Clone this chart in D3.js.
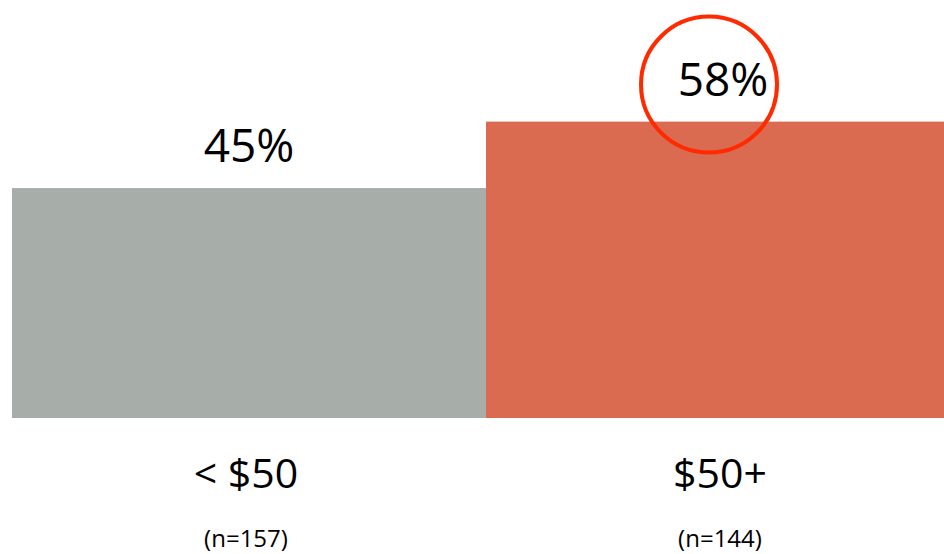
<!DOCTYPE html>
<html>
<head>
<meta charset="utf-8">
<script src="https://cdn.jsdelivr.net/npm/d3@7"></script>
<style>
  html, body { margin: 0; padding: 0; background: #fff; overflow: hidden; }
  svg { display: block; font-family: 'Open Sans', sans-serif; }
</style>
</head>
<body>
<div class="chart"></div>
<script>
const categories = ['< $50', '$50+']
const sampleSizes = ['(n=157)', '(n=144)']
const values = [45, 58]
const highlighted = [false, true]

const GRAY = '#a7aea9'
const ORANGE = '#da6a50'
const RING = '#ff2a00'

const width = 944
const height = 554
const baseline = 418

const svg = d3.select('.chart').append('svg')
  .attr('width', width)
  .attr('height', height)

const x = d3.scaleBand()
  .domain(categories)
  .range([12, 960])
  .padding(0)

// 100% would reach well above the top of the canvas
const y = d3.scaleLinear()
  .domain([0, 100])
  .range([baseline, baseline - 511])

const data = categories.map((c, i) => ({
  cat: c, n: sampleSizes[i], value: values[i], hi: highlighted[i]
}))

svg.selectAll('rect.bar')
  .data(data)
  .join('rect')
  .attr('class', 'bar')
  .attr('x', d => x(d.cat))
  .attr('y', d => y(d.value))
  .attr('width', x.bandwidth())
  .attr('height', d => baseline - y(d.value))
  .attr('fill', (d, i) => i === 0 ? GRAY : ORANGE)

svg.selectAll('text.value')
  .data(data)
  .join('text')
  .attr('class', 'value')
  .attr('x', d => x(d.cat) + x.bandwidth() / 2)
  .attr('y', d => y(d.value) - 26)
  .attr('text-anchor', 'middle')
  .attr('font-size', 46)
  .attr('fill', '#000')
  .text(d => d.value + '%')

svg.selectAll('text.cat')
  .data(data)
  .join('text')
  .attr('class', 'cat')
  .attr('x', d => x(d.cat) + x.bandwidth() / 2 - 3)
  .attr('y', 488)
  .attr('text-anchor', 'middle')
  .attr('font-size', 41)
  .attr('fill', '#000')
  .text(d => d.cat)

svg.selectAll('text.n')
  .data(data)
  .join('text')
  .attr('class', 'n')
  .attr('x', d => x(d.cat) + x.bandwidth() / 2 - 3)
  .attr('y', 547)
  .attr('text-anchor', 'middle')
  .attr('font-size', 24)
  .attr('fill', '#000')
  .text(d => d.n)

// red ring around the highlighted value
svg.selectAll('circle.ring')
  .data(data.filter(d => d.hi))
  .join('circle')
  .attr('class', 'ring')
  .attr('cx', d => x(d.cat) + x.bandwidth() / 2 - 14)
  .attr('cy', d => y(d.value) - 37)
  .attr('r', 68)
  .attr('fill', 'none')
  .attr('stroke', RING)
  .attr('stroke-width', 4)
</script>
</body>
</html>
